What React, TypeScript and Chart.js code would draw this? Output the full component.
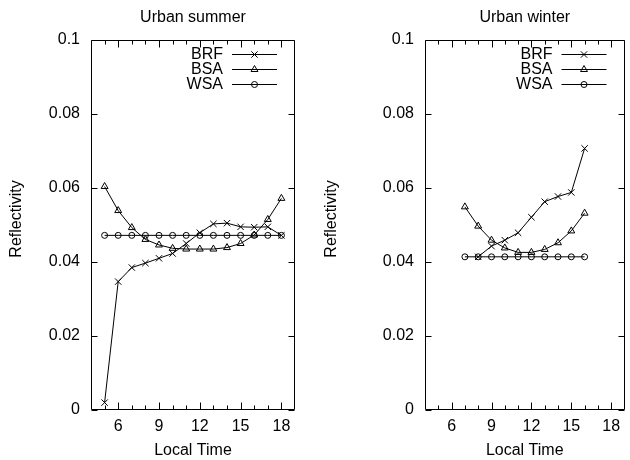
import React, { useEffect, useRef } from 'react';
import { Chart, registerables } from 'chart.js';
import { drawPoint } from 'chart.js/helpers';

Chart.register(...registerables);

const FONT = '"Liberation Sans", Arial, Helvetica, sans-serif';
const FONT_SIZE = 16;

// Summer: hourly values 5h..18h
const summerHours = [5, 6, 7, 8, 9, 10, 11, 12, 13, 14, 15, 16, 17, 18];
const summerBRF = [0.002, 0.0347, 0.0385, 0.0397, 0.041, 0.0423, 0.045, 0.0479, 0.0503, 0.0505, 0.0495, 0.0494, 0.0495, 0.0472];
const summerBSA = [0.0604, 0.0539, 0.0493, 0.0461, 0.0446, 0.0437, 0.0435, 0.0435, 0.0435, 0.0439, 0.045, 0.0473, 0.0515, 0.0572];
const summerWSA = [0.0472, 0.0472, 0.0472, 0.0472, 0.0472, 0.0472, 0.0472, 0.0472, 0.0472, 0.0472, 0.0472, 0.0472, 0.0472, 0.0472];

// Winter: BRF from 8h, BSA/WSA from 7h, all to 16h
const winterHoursBRF = [8, 9, 10, 11, 12, 13, 14, 15, 16];
const winterHours = [7, 8, 9, 10, 11, 12, 13, 14, 15, 16];
const winterBRF = [0.0414, 0.0443, 0.0459, 0.0479, 0.0521, 0.0563, 0.0577, 0.0588, 0.0707];
const winterBSA = [0.0549, 0.0497, 0.0459, 0.0438, 0.0426, 0.0426, 0.0434, 0.0452, 0.0484, 0.0532];
const winterWSA = [0.0414, 0.0414, 0.0414, 0.0414, 0.0414, 0.0414, 0.0414, 0.0414, 0.0414, 0.0414];

const seriesNames = ['BRF', 'BSA', 'WSA'];
const seriesMarkers = ['crossRot', 'triangle', 'circle'];
const seriesRadius = [4.5, 4, 3];

const xMin = 4;
const xMax = 19;
const xMajorTicks = [6, 9, 12, 15, 18];
const yMin = 0;
const yMax = 0.1;
const yTicks = [0, 0.02, 0.04, 0.06, 0.08, 0.1];
const yTickLabels = ['0', '0.02', '0.04', '0.06', '0.08', '0.1'];

const xTitle = 'Local Time';
const yTitle = 'Reflectivity';

type Series = { hours: number[]; values: number[] };

const framePlugin = {
  id: 'gnuFrame',
  afterDraw(chart: any, _args: any, opts: any) {
    const { ctx, chartArea } = chart;
    const xs = chart.scales.x;
    const ys = chart.scales.y;
    const L = Math.round(chartArea.left) + 0.5;
    const R = Math.round(chartArea.right) - 0.5;
    const T = Math.round(chartArea.top) + 0.5;
    const B = Math.round(chartArea.bottom) - 0.5;
    ctx.save();
    ctx.strokeStyle = '#000';
    ctx.lineWidth = 1;
    ctx.beginPath();
    ctx.rect(L, T, R - L, B - T);
    ctx.stroke();

    // inward ticks, mirrored on opposite sides
    ctx.beginPath();
    for (let h = xMin + 1; h < xMax; h++) {
      const major = xMajorTicks.includes(h);
      const len = major ? 7 : 4;
      const px = Math.round(xs.getPixelForValue(h)) + 0.5;
      ctx.moveTo(px, B);
      ctx.lineTo(px, B - len);
      ctx.moveTo(px, T);
      ctx.lineTo(px, T + len);
    }
    for (const v of yTicks) {
      const py = Math.round(ys.getPixelForValue(v)) + 0.5;
      ctx.moveTo(L, py);
      ctx.lineTo(L + 6, py);
      ctx.moveTo(R, py);
      ctx.lineTo(R - 6, py);
    }
    ctx.stroke();

    ctx.fillStyle = '#000';
    ctx.font = `${FONT_SIZE}px ${FONT}`;
    const cx = (chartArea.left + chartArea.right) / 2;

    // panel title
    ctx.textAlign = 'center';
    ctx.textBaseline = 'alphabetic';
    ctx.fillText(opts.title, cx, 22);

    // x axis title
    ctx.fillText(xTitle, cx, 455);

    // y axis title
    ctx.save();
    ctx.translate(21, 219);
    ctx.rotate(-Math.PI / 2);
    ctx.textAlign = 'center';
    ctx.textBaseline = 'alphabetic';
    ctx.fillText(yTitle, 0, 0);
    ctx.restore();

    // key
    chart.data.datasets.forEach((ds: any, i: number) => {
      const y = chartArea.top + 14 + i * 15;
      ctx.textAlign = 'right';
      ctx.textBaseline = 'middle';
      ctx.fillStyle = '#000';
      ctx.fillText(ds.label, chartArea.right - 72, y + 1);
      const x0 = chartArea.right - 63;
      const x1 = chartArea.right - 18;
      ctx.beginPath();
      ctx.strokeStyle = '#000';
      ctx.lineWidth = 1;
      ctx.moveTo(x0, Math.round(y) + 0.5);
      ctx.lineTo(x1, Math.round(y) + 0.5);
      ctx.stroke();
      ctx.fillStyle = 'rgba(0,0,0,0)';
      ctx.strokeStyle = '#000';
      drawPoint(ctx, { pointStyle: ds.pointStyle, radius: ds.pointRadius, rotation: 0, borderWidth: 1 }, (x0 + x1) / 2, Math.round(y) + 0.5);
    });
    ctx.restore();
  },
};

function Panel(props: { left: number; title: string; plotLeft: number; padRight: number; series: Series[] }) {
  const ref = useRef<HTMLCanvasElement>(null);
  useEffect(() => {
    const canvas = ref.current;
    if (!canvas) return;
    const chart = new Chart(canvas, {
      type: 'line',
      data: {
        datasets: props.series.map((s, i) => ({
          label: seriesNames[i],
          data: s.hours.map((h, j) => ({ x: h, y: s.values[j] })),
          borderColor: '#000',
          borderWidth: 1,
          tension: 0,
          fill: false,
          pointStyle: seriesMarkers[i],
          pointRadius: seriesRadius[i],
          pointBorderWidth: 1,
          pointBorderColor: '#000',
          pointBackgroundColor: 'rgba(0,0,0,0)',
        })),
      },
      options: {
        responsive: false,
        maintainAspectRatio: false,
        animation: false,
        events: [],
        layout: { padding: { top: 40, right: props.padRight, left: 0, bottom: 0 } },
        plugins: {
          legend: { display: false },
          title: { display: false },
          tooltip: { enabled: false },
          gnuFrame: { title: props.title },
        } as any,
        scales: {
          x: {
            type: 'linear',
            min: xMin,
            max: xMax,
            grid: { display: false, drawTicks: false },
            border: { display: false },
            afterBuildTicks: (s: any) => {
              s.ticks = xMajorTicks.map((v) => ({ value: v }));
            },
            afterFit: (s: any) => {
              s.height = 50;
            },
            ticks: {
              color: '#000',
              font: { family: FONT, size: FONT_SIZE },
              padding: 7,
              maxRotation: 0,
              autoSkip: false,
              callback: (v: any) => String(v),
            },
          },
          y: {
            type: 'linear',
            min: yMin,
            max: yMax,
            grid: { display: false, drawTicks: false },
            border: { display: false },
            afterBuildTicks: (s: any) => {
              s.ticks = yTicks.map((v) => ({ value: v }));
            },
            afterFit: (s: any) => {
              s.width = props.plotLeft;
            },
            ticks: {
              color: '#000',
              font: { family: FONT, size: FONT_SIZE },
              padding: 11,
              autoSkip: false,
              callback: (v: any) => {
                const k = yTicks.indexOf(Number(v));
                return k >= 0 ? yTickLabels[k] : String(v);
              },
            },
          },
        },
      } as any,
      plugins: [framePlugin],
    });
    return () => chart.destroy();
  }, []);
  return (
    <canvas
      ref={ref}
      width={315}
      height={460}
      style={{ position: 'absolute', left: props.left, top: 0, width: 315, height: 460 }}
    />
  );
}

export default function App() {
  return (
    <div style={{ position: 'absolute', left: 0, top: 0, width: 630, height: 460, background: '#fff', overflow: 'hidden' }}>
      <Panel
        left={0}
        title="Urban summer"
        plotLeft={91}
        padRight={20}
        series={[
          { hours: summerHours, values: summerBRF },
          { hours: summerHours, values: summerBSA },
          { hours: summerHours, values: summerWSA },
        ]}
      />
      <Panel
        left={315}
        title="Urban winter"
        plotLeft={110}
        padRight={1}
        series={[
          { hours: winterHoursBRF, values: winterBRF },
          { hours: winterHours, values: winterBSA },
          { hours: winterHours, values: winterWSA },
        ]}
      />
    </div>
  );
}
